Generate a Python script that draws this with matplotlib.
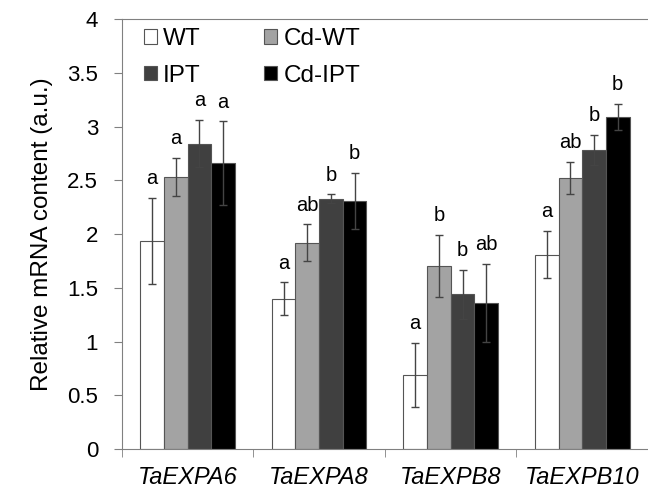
import numpy as np
import matplotlib.pyplot as plt

plt.rcParams["font.family"] = ["Liberation Sans", "DejaVu Sans"]

# Gegevens
genes = ["TaEXPA6", "TaEXPA8", "TaEXPB8", "TaEXPB10"]
series = ["WT", "Cd-WT", "IPT", "Cd-IPT"]
colors = ["#ffffff", "#a3a3a3", "#404040", "#000000"]

wt = [1.94, 1.40, 0.69, 1.81]
cd_wt = [2.53, 1.92, 1.70, 2.52]
ipt = [2.84, 2.33, 1.44, 2.78]
cd_ipt = [2.66, 2.31, 1.36, 3.09]

wt_err = [0.40, 0.15, 0.30, 0.22]
cd_wt_err = [0.18, 0.17, 0.29, 0.15]
ipt_err = [0.22, 0.04, 0.23, 0.14]
cd_ipt_err = [0.39, 0.26, 0.36, 0.12]

wt_lab = ["a", "a", "a", "a"]
cd_wt_lab = ["a", "ab", "b", "ab"]
ipt_lab = ["a", "b", "b", "b"]
cd_ipt_lab = ["a", "b", "ab", "b"]

values = [wt, cd_wt, ipt, cd_ipt]
errors = [wt_err, cd_wt_err, ipt_err, cd_ipt_err]
letters = [wt_lab, cd_wt_lab, ipt_lab, cd_ipt_lab]

fig = plt.figure(figsize=(6.48, 4.91), dpi=100)
ax = fig.add_axes([0.188, 0.0855, 0.812, 0.8755])

x = np.arange(len(genes))
width = 0.18
handles = []
for i, name in enumerate(series):
    pos = x + (i - 1.5) * width
    b = ax.bar(pos, values[i], width, color=colors[i], edgecolor="#555555",
               linewidth=0.8, label=name, zorder=2)
    ax.errorbar(pos, values[i], yerr=errors[i], fmt="none", ecolor="#444444",
                elinewidth=1.0, capsize=3, capthick=1.0, zorder=3)
    handles.append(b)
    for p, v, e, t in zip(pos, values[i], errors[i], letters[i]):
        ax.annotate(t, (p, v + e), xytext=(0, 7), textcoords="offset points",
                    ha="center", va="bottom", fontsize=14.5)

ax.set_xlim(-0.5, len(genes) - 0.5)
ax.set_ylim(0, 4)
ax.set_yticks(np.arange(0, 4.01, 0.5))
ax.set_yticklabels(["0", "0.5", "1", "1.5", "2", "2.5", "3", "3.5", "4"], fontsize=16)
ax.set_xticks(x)
ax.set_xticklabels(genes, fontsize=17, style="italic")
ax.tick_params(axis="x", length=0, pad=12)
ax.set_xticks(np.arange(-0.5, len(genes), 1), minor=True)
ax.tick_params(axis="x", which="minor", length=6, color="#808080", direction="out")
ax.tick_params(axis="y", length=6, color="#808080", direction="out", pad=11)
ax.set_ylabel("Relative mRNA content (a.u.)", fontsize=17.5, labelpad=10)

for s in ["left", "bottom", "top"]:
    ax.spines[s].set_color("#808080")
ax.spines["right"].set_visible(False)

ax.legend([handles[0], handles[2], handles[1], handles[3]],
          ["WT", "IPT", "Cd-WT", "Cd-IPT"], ncol=2, frameon=False,
          loc="upper left", bbox_to_anchor=(0.0, 1.03), fontsize=17.5,
          handlelength=0.55, handleheight=0.55, handletextpad=0.25,
          columnspacing=2.6, labelspacing=0.6)

fig.savefig("out.png", dpi=100)
